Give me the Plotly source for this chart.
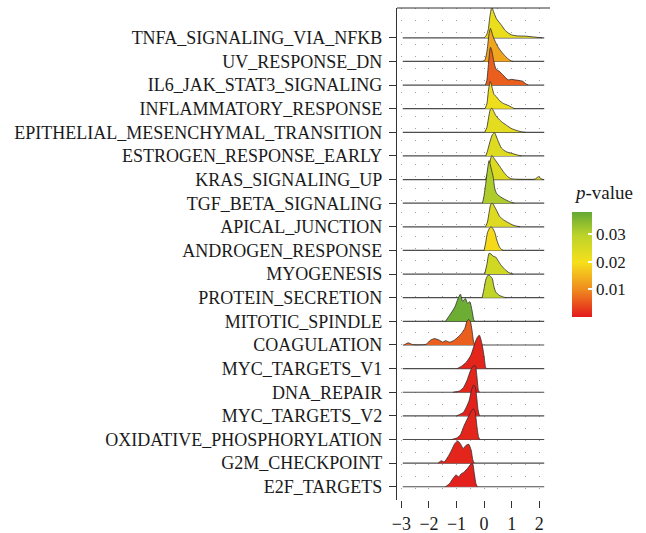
import plotly.graph_objects as go
from plotly.colors import sample_colorscale

pathways = ["TNFA_SIGNALING_VIA_NFKB", "UV_RESPONSE_DN", "IL6_JAK_STAT3_SIGNALING",
            "INFLAMMATORY_RESPONSE", "EPITHELIAL_MESENCHYMAL_TRANSITION",
            "ESTROGEN_RESPONSE_EARLY", "KRAS_SIGNALING_UP", "TGF_BETA_SIGNALING",
            "APICAL_JUNCTION", "ANDROGEN_RESPONSE", "MYOGENESIS", "PROTEIN_SECRETION",
            "MITOTIC_SPINDLE", "COAGULATION", "MYC_TARGETS_V1", "DNA_REPAIR",
            "MYC_TARGETS_V2", "OXIDATIVE_PHOSPHORYLATION", "G2M_CHECKPOINT", "E2F_TARGETS"]

pvalues = [0.022, 0.013, 0.006, 0.021, 0.023, 0.024, 0.024, 0.031, 0.024, 0.019,
           0.026, 0.029, 0.037, 0.006, 0.001, 0.001, 0.0005, 0.001, 0.001, 0.0005]

ridge_x = [
    [0.0, 0.08, 0.15, 0.21, 0.28, 0.36, 0.45, 0.55, 0.65, 0.75, 0.88, 1.0, 1.2, 1.5, 1.75, 2.0, 2.1],
    [-0.05, 0.03, 0.11, 0.18, 0.23, 0.33, 0.42, 0.51, 0.6, 0.69, 0.8, 0.9, 1.0, 1.05],
    [0.05, 0.1, 0.17, 0.23, 0.28, 0.33, 0.43, 0.55, 0.69, 0.87, 1.0, 1.1, 1.23, 1.4, 1.5, 1.6],
    [0.03, 0.1, 0.16, 0.22, 0.3, 0.36, 0.45, 0.55, 0.7, 0.87, 1.0, 1.1],
    [0.02, 0.1, 0.16, 0.22, 0.28, 0.35, 0.42, 0.51, 0.63, 0.81, 0.99, 1.2, 1.4, 1.5],
    [0.06, 0.12, 0.2, 0.3, 0.38, 0.45, 0.52, 0.63, 0.8, 1.0, 1.2, 1.35],
    [0.05, 0.12, 0.2, 0.28, 0.36, 0.48, 0.6, 0.72, 0.85, 0.95, 1.1, 1.5, 1.85, 1.97, 2.08, 2.15],
    [-0.06, -0.01, 0.06, 0.12, 0.18, 0.25, 0.33, 0.39, 0.45, 0.51, 0.69, 0.93, 1.1],
    [0.05, 0.12, 0.18, 0.24, 0.3, 0.38, 0.45, 0.57, 0.7, 0.81, 1.05, 1.3],
    [0.0, 0.06, 0.12, 0.2, 0.26, 0.33, 0.4, 0.46, 0.55, 0.63, 0.7],
    [0.02, 0.1, 0.18, 0.25, 0.32, 0.42, 0.5, 0.6, 0.75, 0.9, 1.05],
    [-0.07, 0.0, 0.07, 0.15, 0.22, 0.3, 0.35, 0.42, 0.55, 0.7, 0.8],
    [-1.4, -1.25, -1.06, -0.95, -0.86, -0.78, -0.68, -0.6, -0.52, -0.44, -0.38, -0.34],
    [-2.9, -2.83, -2.75, -2.65, -2.55, -2.3, -2.1, -1.95, -1.8, -1.62, -1.5, -1.4, -1.25,
     -1.1, -0.95, -0.82, -0.7, -0.63, -0.56, -0.5, -0.44, -0.38, -0.33],
    [-0.98, -0.82, -0.64, -0.48, -0.34, -0.24, -0.17, -0.08, 0.0, 0.05, 0.08],
    [-1.13, -0.9, -0.75, -0.62, -0.5, -0.4, -0.32, -0.26, -0.21, -0.17],
    [-1.0, -0.89, -0.75, -0.64, -0.54, -0.46, -0.38, -0.32, -0.27, -0.22, -0.17],
    [-1.18, -1.0, -0.86, -0.74, -0.62, -0.5, -0.4, -0.33, -0.26, -0.2, -0.15],
    [-1.67, -1.55, -1.45, -1.31, -1.18, -1.06, -0.95, -0.85, -0.76, -0.65, -0.56, -0.47, -0.41, -0.36],
    [-1.4, -1.25, -1.13, -1.02, -0.92, -0.84, -0.72, -0.6, -0.48, -0.42, -0.36, -0.3, -0.25],
]

ridge_h = [
    [0, 0.1, 0.35, 0.9, 1.29, 1.05, 0.8, 0.65, 0.5, 0.33, 0.2, 0.12, 0.08, 0.07, 0.04, 0.01, 0],
    [0, 0.06, 0.48, 1.18, 1.4, 1.04, 0.8, 0.6, 0.45, 0.32, 0.18, 0.08, 0.01, 0],
    [0, 0.2, 1.05, 1.6, 1.45, 1.13, 0.68, 0.58, 0.42, 0.22, 0.24, 0.22, 0.2, 0.16, 0.06, 0],
    [0, 0.2, 0.8, 1.15, 0.85, 0.6, 0.5, 0.35, 0.22, 0.14, 0.06, 0],
    [0, 0.2, 0.6, 0.95, 1.02, 0.88, 0.72, 0.59, 0.45, 0.3, 0.16, 0.07, 0.01, 0],
    [0, 0.2, 0.55, 0.9, 0.98, 0.8, 0.6, 0.33, 0.18, 0.11, 0.04, 0],
    [0, 0.25, 0.7, 1.02, 0.9, 0.7, 0.5, 0.3, 0.13, 0.05, 0.02, 0.01, 0.02, 0.12, 0.03, 0],
    [0, 0.27, 0.84, 1.4, 1.8, 1.5, 1.1, 0.6, 0.42, 0.34, 0.2, 0.06, 0],
    [0, 0.2, 0.6, 0.95, 1.0, 0.85, 0.7, 0.43, 0.3, 0.22, 0.07, 0],
    [0, 0.35, 0.75, 0.95, 1.0, 0.9, 0.72, 0.44, 0.16, 0.04, 0],
    [0, 0.4, 0.88, 0.85, 0.76, 0.72, 0.58, 0.4, 0.2, 0.06, 0],
    [0, 0.4, 0.8, 0.96, 0.92, 0.8, 0.5, 0.25, 0.1, 0.03, 0],
    [0, 0.26, 0.61, 0.95, 1.15, 0.85, 0.97, 0.76, 0.83, 0.47, 0.08, 0],
    [0, 0.05, 0.09, 0.04, 0.01, 0.01, 0.03, 0.2, 0.27, 0.2, 0.12, 0.18, 0.12,
     0.19, 0.33, 0.49, 0.7, 0.98, 1.08, 1.0, 0.63, 0.13, 0],
    [0, 0.1, 0.28, 0.57, 1.06, 1.34, 1.41, 1.06, 0.5, 0.07, 0],
    [0, 0.05, 0.2, 0.5, 0.9, 1.1, 1.12, 0.65, 0.1, 0],
    [0, 0.06, 0.15, 0.38, 0.66, 1.08, 1.3, 1.2, 0.8, 0.25, 0],
    [0, 0.06, 0.2, 0.55, 0.85, 1.12, 1.3, 1.18, 0.55, 0.1, 0],
    [0, 0.1, 0.05, 0.27, 0.55, 0.83, 0.94, 0.8, 0.62, 0.76, 0.8, 0.55, 0.13, 0],
    [0, 0.14, 0.35, 0.5, 0.42, 0.54, 0.63, 0.78, 0.96, 0.99, 0.6, 0.15, 0],
]

x_ticks = [-3, -2, -1, 0, 1, 2]
cbar_ticks = [0.01, 0.02, 0.03]
grid_min, grid_max = -2.95, 2.18
p_max = 0.038

colorscale = [[0.0, "#e31a1c"], [0.26, "#ef8a1f"], [0.52, "#f6e01b"],
              [0.78, "#bcd32a"], [1.0, "#63a835"]]

FONT = "Liberation Serif"
TXT = "#1a1a1a"

# plot-area geometry in pixels (for placing colorbar pieces)
PL, PR, PT, PB = 397, 550, 8, 500
CB_X, CB_W, CB_TOP, CB_BOT = 572, 20, 212, 317

fig = go.Figure()
n = len(pathways)
for k, name in enumerate(pathways):
    base = n - 1 - k
    fig.add_trace(go.Scatter(x=[grid_min, grid_max], y=[base, base], mode="lines",
                             line=dict(color="#4d4d4d", width=1.2),
                             hoverinfo="skip", showlegend=False))
    col = sample_colorscale(colorscale, [pvalues[k] / p_max])[0]
    xs = ridge_x[k]
    ys = [base + h for h in ridge_h[k]]
    fig.add_trace(go.Scatter(x=xs, y=ys, mode="lines", fill="toself", fillcolor=col,
                             line=dict(color="#2b2b2b", width=0.8, shape="spline",
                                       smoothing=0.6),
                             name=name, showlegend=False))

fig.add_trace(go.Scatter(
    x=[-10], y=[-10], mode="markers", showlegend=False, hoverinfo="skip",
    marker=dict(size=1, color=[0.02], colorscale=colorscale, cmin=0, cmax=p_max,
                showscale=True,
                colorbar=dict(
                    xref="container", x=CB_X / 646, xanchor="left", xpad=0,
                    yref="paper", y=(PB - (CB_TOP + CB_BOT) / 2) / (PB - PT),
                    yanchor="middle", ypad=0,
                    len=CB_BOT - CB_TOP, lenmode="pixels", thickness=CB_W,
                    thicknessmode="pixels",
                    outlinewidth=0, ticks="inside", ticklen=4, tickcolor="white",
                    tickwidth=1.5,
                    tickvals=cbar_ticks, ticktext=[f"{v:.2f}" for v in cbar_ticks],
                    tickfont=dict(family=FONT, size=17, color=TXT)))))

shapes = [dict(type="line", xref="paper", yref="paper", x0=0, x1=1, y0=1, y1=1,
               line=dict(color="#333", width=1.2))]
for v in cbar_ticks:
    ypx = CB_BOT - v / p_max * (CB_BOT - CB_TOP)
    yp = (PB - ypx) / (PB - PT)
    shapes.append(dict(type="line", xref="paper", yref="paper",
                       x0=(CB_X - PL) / (PR - PL), x1=(CB_X + 4 - PL) / (PR - PL),
                       y0=yp, y1=yp, line=dict(color="white", width=1.5)))

fig.update_layout(
    width=646, height=533,
    margin=dict(l=PL, r=646 - PR, t=PT, b=533 - PB),
    paper_bgcolor="white", plot_bgcolor="white",
    font=dict(family=FONT, size=18, color=TXT),
    xaxis=dict(range=[-3.16, 2.39], tickvals=x_ticks, ticks="outside", ticklen=7,
               tickcolor="#333", tickwidth=1.2, showline=False, zeroline=False,
               showgrid=True, gridcolor="#a0a0a0", gridwidth=1, griddash="1px,11px",
               minor=dict(dtick=0.5, tick0=0, showgrid=True, gridcolor="#a0a0a0",
                          griddash="1px,11px", gridwidth=1),
               automargin=False,
               tickfont=dict(family=FONT, size=18, color=TXT)),
    yaxis=dict(range=[-0.56, 20.26], tickvals=[n - 1 - k for k in range(n)],
               ticktext=pathways, ticks="outside", ticklen=7, tickcolor="#333",
               tickwidth=1.2, showline=True, linecolor="#333", linewidth=1.2,
               showgrid=False, zeroline=False, ticklabelstandoff=3, automargin=False,
               tickfont=dict(family=FONT, size=18, color=TXT)),
    shapes=shapes,
    annotations=[dict(text="<i>p</i>-value", xref="paper", yref="paper",
                      x=(CB_X - PL) / (PR - PL), y=(PB - 193) / (PB - PT),
                      xanchor="left", yanchor="middle", showarrow=False,
                      font=dict(family=FONT, size=19, color=TXT))],
)

fig.write_html("out.html")
